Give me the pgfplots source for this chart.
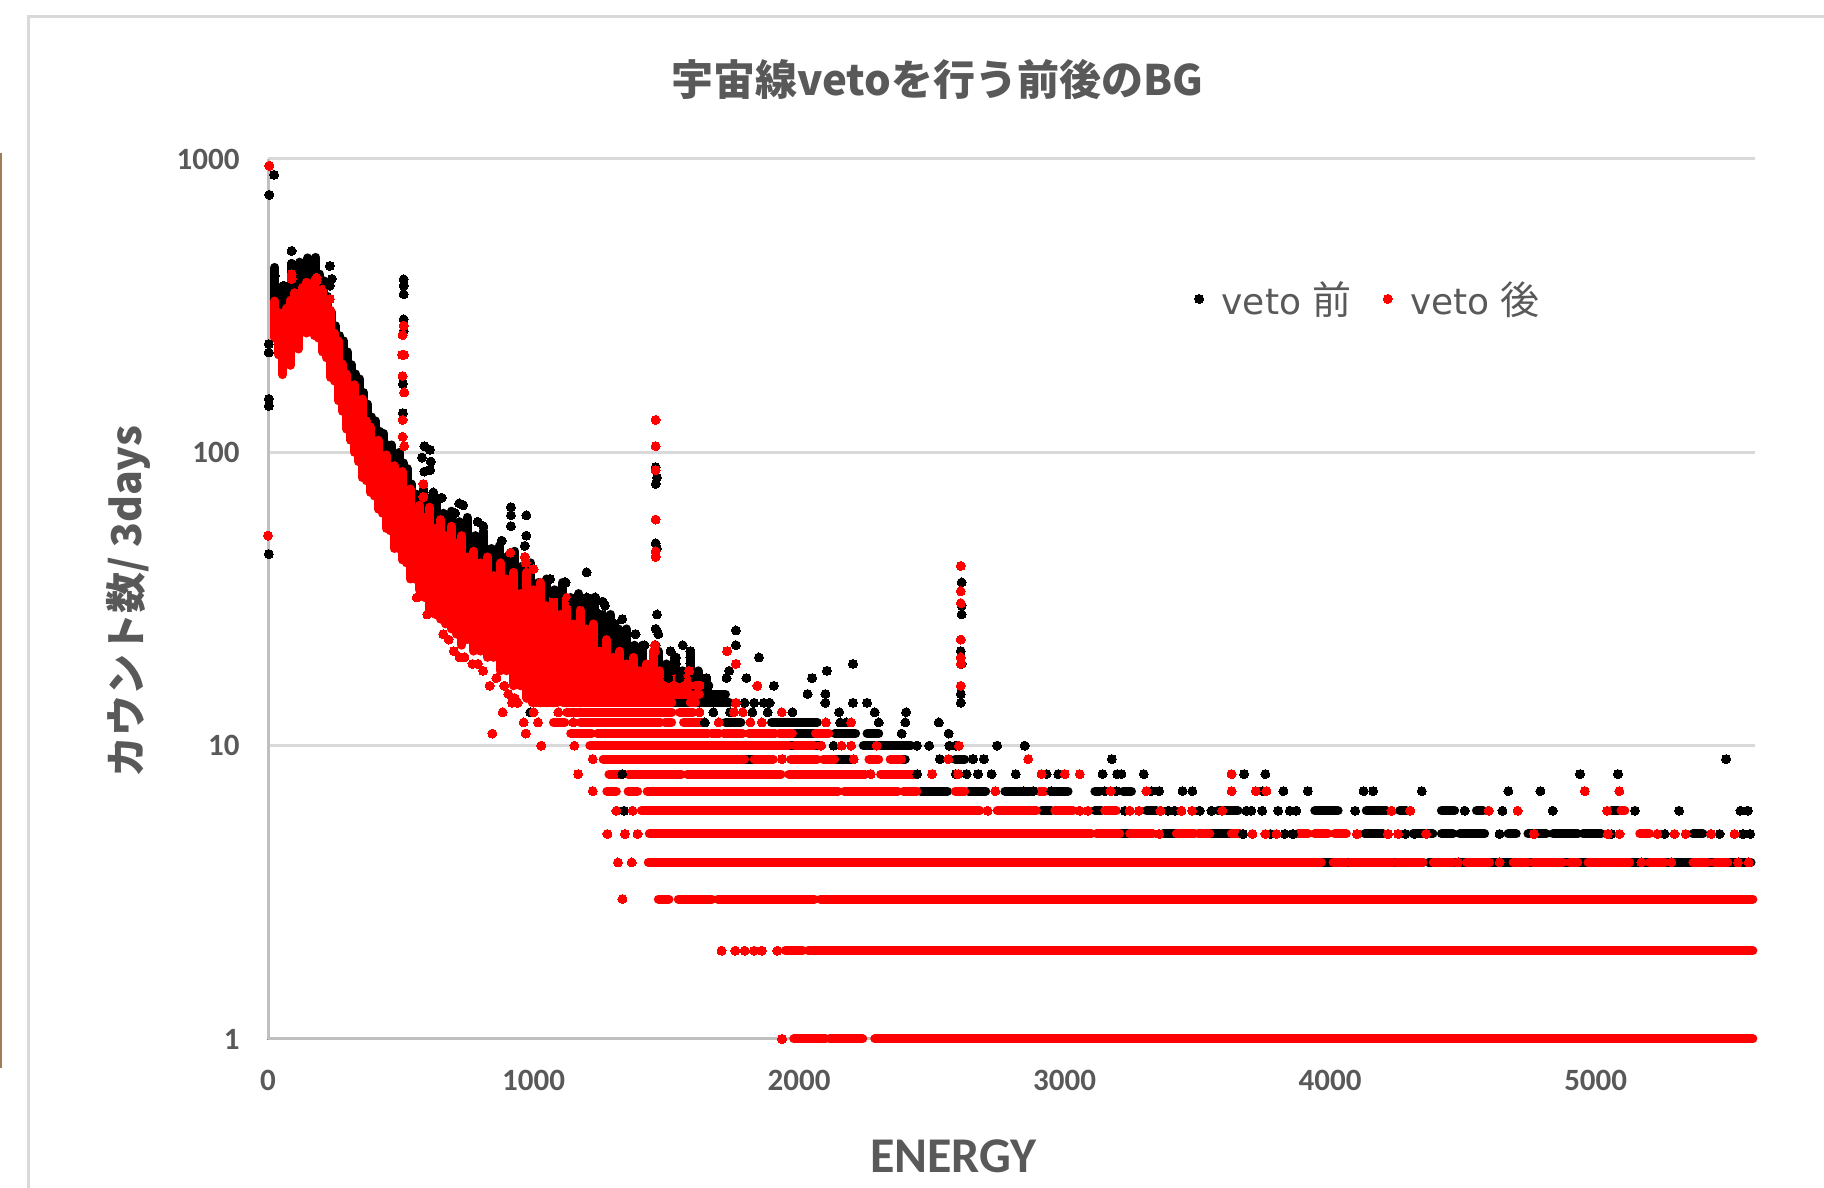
\documentclass[border=0pt]{standalone}
\usepackage{fontspec}
\usepackage{pgfplots}
\pgfplotsset{compat=1.18}
\setmainfont{Carlito}
\newfontfamily\cjk{Noto Sans CJK JP}
\newfontfamily\dejavu{DejaVu Sans}
\definecolor{txt}{HTML}{595959}
\definecolor{grid}{HTML}{D9D9D9}
\definecolor{axl}{HTML}{BFBFBF}
\definecolor{frame}{HTML}{D9D9D9}
\definecolor{strip}{HTML}{A07C58}
\pgfplotsset{
  mk/.style={only marks,mark=*,mark size=4.5pt,draw=#1,fill=#1,mark options={draw=#1,fill=#1,line width=0pt}},
  run/.style={no markers,draw=#1,line width=9pt,line cap=round,unbounded coords=jump,forget plot},
}
\begin{document}
\begin{tikzpicture}
\path[use as bounding box] (0,0) rectangle (1824pt,1188pt);
\draw[frame,line width=3pt] (28pt,0) -- (28pt,1171pt) -- (1824pt,1171pt);
\draw[strip,line width=2pt] (1pt,120pt) -- (1pt,1035pt);
\begin{axis}[
  at={(268pt,149pt)},anchor=south west,
  scale only axis,width=1487pt,height=880pt,
  xmin=0,xmax=5600,ymin=1,ymax=1000,ymode=log,
  clip=false,
  axis lines=left,axis line style={-,draw=axl,line width=3pt},
  ymajorgrids,grid style={draw=grid,line width=3pt},
  xtick={0,1000,2000,3000,4000,5000},xticklabels={0,1000,2000,3000,4000,5000},
  ytick={1,10,100,1000},yticklabels={1,10,100,1000},
  minor y tick num=0,major tick length=0pt,
  tick label style={font=\fontsize{31}{37}\selectfont\bfseries,text=txt},
  x tick label style={yshift=-28pt},
  y tick label style={xshift=-25pt},
  title={\fontsize{42}{49}\selectfont\cjk\bfseries 宇宙線veto\hspace{0pt}を行う前後のBG},
  title style={at={(0.45,1.0830)},anchor=center,text=txt},
  xlabel={\fontsize{50}{58}\selectfont\bfseries ENERGY},
  xlabel style={at={(0.461,-0.133)},anchor=center,text=txt},
  ylabel={\fontsize{41}{48}\selectfont\cjk\bfseries カウント数/ 3days},
  ylabel style={at={(-0.094,0.497)},anchor=center,text=txt,rotate=0},
  legend columns=2,
  legend style={at={(0.621,0.841)},anchor=west,draw=none,fill=none,
    font=\fontsize{36}{42}\selectfont\dejavu,text=txt,
    /tikz/every even column/.append style={column sep=30pt}},
]
% ---------- black: saturated columns of the blob
\addplot[run=black] coordinates {
(26,300)(26,427)(26,nan)(40,300)(40,365)(40,nan)(55,300)(55,355)(55,nan)(70,300)(70,330)(70,nan)
(90,300)(90,440)(90,nan)(105,300)(105,430)(105,nan)(120,300)(120,445)(120,nan)(135,300)(135,425)(135,nan)
(150,300)(150,460)(150,nan)(165,300)(165,430)(165,nan)(180,300)(180,462)(180,nan)(195,300)(195,405)(195,nan)
(210,280)(210,385)(210,nan)(225,260)(225,340)(225,nan)(240,230)(240,300)(240,nan)(255,215)(255,270)(255,nan)
(270,180)(270,250)(270,nan)(285,165)(285,240)(285,nan)(300,150)(300,220)(300,nan)(315,140)(315,199)(315,nan)
(330,125)(330,185)(330,nan)(345,115)(345,178)(345,nan)(360,105)(360,160)(360,nan)(375,95)(375,146)(375,nan)
(390,90)(390,132)(390,nan)(405,85)(405,128)(405,nan)(420,80)(420,118)(420,nan)(435,75)(435,116)(435,nan)
(450,72)(450,106)(450,nan)(465,68)(465,106)(465,nan)(480,66)(480,98)(480,nan)(495,64)(495,100)(495,nan)
(510,62)(510,92)(510,nan)(525,58)(525,88)(525,nan)(540,55)(540,78)(540,nan)(560,50)(560,72)(560,nan)
(585,40)(585,75)(585,nan)(610,38)(610,70)(610,nan)(635,36)(635,70)(635,nan)(660,34)(660,62)(660,nan)
(690,32)(690,63)(690,nan)(720,30)(720,58)(720,nan)(750,28)(750,60)(750,nan)(780,26)(780,52)(780,nan)
(810,25)(810,54)(810,nan)(840,24)(840,47)(840,nan)(870,23)(870,48)(870,nan)(900,22)(900,44)(900,nan)
(930,22)(930,46)(930,nan)(960,20)(960,41)(960,nan)(990,18)(990,42)(990,nan)(1020,18)(1020,36)(1020,nan)
(1050,17)(1050,37)(1050,nan)(1080,17)(1080,34)(1080,nan)(1110,16)(1110,36)(1110,nan)(1140,16)(1140,32)(1140,nan)
(1170,16)(1170,33)(1170,nan)(1200,16)(1200,30)(1200,nan)(1230,16)(1230,32)(1230,nan)(1260,16)(1260,28)(1260,nan)
(1290,16)(1290,28)(1290,nan)(1320,16)(1320,25)(1320,nan)(1350,16)(1350,25)(1350,nan)(1380,16)(1380,22)(1380,nan)
(1410,16)(1410,22)(1410,nan)(1440,16)(1440,19)(1440,nan)(1470,16)(1470,21)(1470,nan)(1500,16)(1500,19)(1500,nan)
(1530,16)(1530,20)(1530,nan)(1560,16)(1560,18)(1560,nan)(1590,16)(1590,21)(1590,nan)(1620,16)(1620,18)(1620,nan)
(1650,16)(1650,17)(1650,nan)
};
% ---------- black: count rows, dense stretches
\addplot[run=black] coordinates {
(1600,16)(1660,16)(1660,nan)
(1594,15)(1723,15)(1723,nan)
(1529,14)(1738,14)(1738,nan)
(1723,12)(1781,12)(1781,nan)(1896,12)(2069,12)(2069,nan)
(1983,11)(2055,11)(2055,nan)(2134,11)(2213,11)(2213,nan)(2256,11)(2300,11)(2300,nan)
(1961,10)(1983,10)(1983,nan)(2055,10)(2083,10)(2083,nan)(2242,10)(2422,10)(2422,nan)
(1795,9)(1831,9)(1831,nan)(2134,9)(2206,9)(2206,nan)(2386,9)(2400,9)(2400,nan)(2588,9)(2624,9)(2624,nan)
(2458,7)(2559,7)(2559,nan)(2638,7)(2703,7)(2703,nan)(2775,7)(2869,7)(2869,nan)(2948,7)(3013,7)(3013,nan)
(3114,7)(3132,7)(3132,nan)(3220,7)(3252,7)(3252,nan)
(2913,6)(2950,6)(2950,nan)(3114,6)(3139,6)(3139,nan)(3308,6)(3346,6)(3346,nan)(3578,6)(3653,6)(3653,nan)
(3942,6)(4030,6)(4030,nan)(4136,6)(4212,6)(4212,nan)(4262,6)(4287,6)(4287,nan)(4419,6)(4469,6)(4469,nan)
(4551,6)(4576,6)(4576,nan)(5060,6)(5085,6)(5085,nan)
(3208,5)(3239,5)(3239,nan)(3371,5)(3415,5)(3415,nan)(3547,5)(3622,5)(3622,nan)(4130,5)(4199,5)(4199,nan)
(4312,5)(4387,5)(4387,nan)(4419,5)(4463,5)(4463,nan)(4488,5)(4582,5)(4582,nan)(4670,5)(4701,5)(4701,nan)
(4745,5)(4814,5)(4814,nan)(4839,5)(4933,5)(4933,nan)(4952,5)(5021,5)(5021,nan)(5366,5)(5404,5)(5404,nan)
(3960,4)(4350,4)(4350,nan)(4370,4)(5585,4)(5585,nan)
};
% ---------- black: single points
\addplot[mk=black] coordinates {
(5,755)(23,883)(3,234)(3,219)(3,152)(3,144)(3,45)
(511,389)(511,370)(511,346)(511,284)(511,259)(508,171)(508,136)
(589,105)(610,102)(580,96)(613,93)(589,86)(610,87)
(89,486)(89,440)(233,432)(240,390)(233,370)(26,400)(60,370)
(623,73)(654,70)(705,62)(720,67)(735,66)(790,58)(811,56)(880,50)
(915,65)(915,61)(915,56)(973,61)(973,52)(967,48)
(1200,39)(1062,37)(1118,36)(1075,33)(1150,31)(1180,31)(1260,31)(1290,27)
(1121,36)(1096,33)(1161,32)(1201,32)(1233,32)(1219,30)(1269,30)(1248,28)
(1284,25)(1305,26)(1334,27)(1384,24)(1418,22)
(1460,89)(1465,82)(1460,78)(1460,49)(1465,47)(1465,28)(1460,25)(1470,24)(1460,22)
(2612,36)(2612,30)(2612,28)(2609,21)(2612,19)(2609,15)(2609,14)
(1516,21)(1536,20)(1536,19)(1591,21)(1591,20)(1591,19)(1562,22)
(1514,18)(1508,17)(1550,17)(1651,17)(1658,16)
(1762,24.7)(1762,22)(1849,20)(1737,18)(1727,17)(1802,17)(1905,16)
(2032,15)(2099,15)(2099,14)(2049,17)(2105,18)(2203,19)(2203,14)(2256,14)
(1795,14)(1831,14)(1867,14)(1889,14)
(988,13)(1677,13)(1740,13)(1824,13)(1882,13)(1975,13)(2151,13)(2285,13)(2403,13)
(2155,12)(2177,12)(2300,12)(2400,12)(2526,12)(1645,12)
(2386,11)(2563,11)
(2130,10)(2444,10)(2490,10)(2566,10)(2590,10)(2746,10)(2850,10)
(2530,9)(2655,9)(2696,9)(3178,9)(5491,9)
(1334,8)(2445,8)(2590,8)(2631,8)(2674,8)(2725,8)(2816,8)(2932,8)(2976,8)
(3143,8)(3198,8)(3214,8)(3298,8)(3676,8)(3756,8)(4941,8)(5084,8)
(2846,7)(2881,7)(2950,7)(3151,7)(3195,7)(3327,7)(3356,7)(3444,7)(3481,7)(3747,7)(3824,7)(3916,7)
(4126,7)(4162,7)(4345,7)(4671,7)(4792,7)
(1341,6)(3227,6)(3390,6)(3415,6)(3509,6)(3553,6)(3685,6)(3703,6)(3744,6)(3804,6)(3848,6)(3873,6)
(4094,6)(4507,6)(4649,6)(4838,6)(5148,6)(5314,6)(5545,6)(5573,6)
(3672,5)(3775,5)(3829,5)(3860,5)(4283,5)(4318,5)(4638,5)(5060,5)(5260,5)(5467,5)(5555,5)(5582,5)
};
\addlegendentry{\hspace{16pt}veto\hspace{11pt}{\cjk\fontsize{39}{42}\selectfont 前}}
% ---------- red: saturated columns of the blob
\addplot[run=red] coordinates {
(26,245)(26,328)(26,nan)(40,215)(40,300)(40,nan)(55,184)(55,285)(55,nan)(70,205)(70,310)(70,nan)
(85,198)(85,330)(85,nan)(100,235)(100,350)(100,nan)(115,225)(115,345)(115,nan)(130,270)(130,365)(130,nan)
(145,255)(145,380)(145,nan)(160,275)(160,370)(160,nan)(175,250)(175,385)(175,nan)(190,245)(190,350)(190,nan)
(205,220)(205,360)(205,nan)(220,210)(220,320)(220,nan)(235,180)(235,305)(235,nan)(250,175)(250,255)(250,nan)
(265,150)(265,240)(265,nan)(280,138)(280,200)(280,nan)(295,120)(295,185)(295,nan)(310,110)(310,160)(310,nan)
(325,100)(325,170)(325,nan)(340,93)(340,150)(340,nan)(355,82)(355,152)(355,nan)(370,80)(370,128)(370,nan)
(385,73)(385,122)(385,nan)(400,71)(400,106)(400,nan)(415,64)(415,110)(415,nan)(430,62)(430,94)(430,nan)
(445,55)(445,98)(445,nan)(460,54)(460,86)(460,nan)(475,47)(475,90)(475,nan)(490,47)(490,80)(490,nan)
(505,43)(505,86)(505,nan)(520,42)(520,74)(520,nan)(535,37)(535,75)(535,nan)(550,37)(550,62)(550,nan)
(570,34)(570,66)(570,nan)(590,32)(590,60)(590,nan)(610,29)(610,65)(610,nan)(630,28)(630,55)(630,nan)
(650,27)(650,59)(650,nan)(670,26)(670,52)(670,nan)(690,25)(690,56)(690,nan)(710,24)(710,49)(710,nan)
(730,22)(730,52)(730,nan)(750,23)(750,44)(750,nan)(775,21)(775,46)(775,nan)(800,21)(800,42)(800,nan)
(825,20)(825,44)(825,nan)(850,20)(850,38)(850,nan)(875,18)(875,42)(875,nan)(900,18)(900,37)(900,nan)
(925,16)(925,39)(925,nan)(950,16)(950,33)(950,nan)(975,14.5)(975,39)(975,nan)(1000,15)(1000,34)(1000,nan)
(1025,14)(1025,36)(1025,nan)(1050,14)(1050,30)(1050,nan)(1075,14)(1075,33)(1075,nan)(1100,14.5)(1100,28)(1100,nan)
(1125,14)(1125,32)(1125,nan)(1150,14)(1150,26)(1150,nan)(1175,14)(1175,29)(1175,nan)(1200,15)(1200,25)(1200,nan)
(1225,15)(1225,26)(1225,nan)(1250,17)(1250,21)(1250,nan)(1275,15)(1275,23)(1275,nan)(1300,17)(1300,20)(1300,nan)
(1325,15)(1325,21)(1325,nan)(1350,17)(1350,19)(1350,nan)(1375,15)(1375,20)(1375,nan)(1400,16)(1400,18)(1400,nan)
(1425,15)(1425,19)(1425,nan)(1450,17)(1450,21)(1450,nan)(1475,15)(1475,18)(1475,nan)(1500,15)(1500,16)(1500,nan)
(1525,15)(1525,17)(1525,nan)(1575,15)(1575,17)(1575,nan)
};
% ---------- red: count rows, dense stretches
\addplot[run=red] coordinates {
(990,16)(1020,16)(1020,nan)(1060,16)(1590,16)(1590,nan)(1610,16)(1630,16)(1630,nan)
(985,15)(1015,15)(1015,nan)(1046,15)(1594,15)(1594,nan)(1610,15)(1625,15)(1625,nan)
(995,14)(1089,14)(1089,nan)(1111,14)(1521,14)(1521,nan)(1590,14)(1610,14)(1610,nan)
(1125,13)(1521,13)(1521,nan)(1550,13)(1601,13)(1601,nan)
(1075,12)(1118,12)(1118,nan)(1176,12)(1478,12)(1478,nan)(1495,12)(1520,12)(1520,nan)(1565,12)(1637,12)(1637,nan)
(1140,11)(1219,11)(1219,nan)(1240,11)(1658,11)(1658,nan)(1670,11)(1700,11)(1700,nan)(1716,11)(1788,11)(1788,nan)
(1810,11)(1910,11)(1910,nan)(1925,11)(1975,11)(1975,nan)(2062,11)(2112,11)(2112,nan)
(1212,10)(1961,10)(1961,nan)(1983,10)(2055,10)(2055,nan)
(1262,9)(1795,9)(1795,nan)(1831,9)(1903,9)(1903,nan)(1968,9)(2069,9)(2069,nan)(2091,9)(2134,9)(2134,nan)
(2263,9)(2300,9)(2300,nan)(2343,9)(2386,9)(2386,nan)
(1284,8)(1325,8)(1325,nan)(1356,8)(1557,8)(1557,nan)(1579,8)(1932,8)(1932,nan)(1961,8)(2249,8)(2249,nan)(2307,8)(2437,8)(2437,nan)
(1276,7)(1312,7)(1312,nan)(1356,7)(1392,7)(1392,nan)(1428,7)(2148,7)(2148,nan)(2170,7)(2372,7)(2372,nan)
(2393,7)(2444,7)(2444,nan)(2588,7)(2624,7)(2624,nan)(2905,7)(2925,7)(2925,nan)
(1406,6)(2681,6)(2681,nan)(2746,6)(2894,6)(2894,nan)(2963,6)(3032,6)(3032,nan)(3151,6)(3195,6)(3195,nan)(5095,6)(5110,6)(5110,nan)
(1436,5)(3101,5)(3101,nan)(3120,5)(3208,5)(3208,nan)(3245,5)(3333,5)(3333,nan)(3421,5)(3490,5)(3490,nan)
(3503,5)(3547,5)(3547,nan)(3628,5)(3660,5)(3660,nan)(3879,5)(3917,5)(3917,nan)(3942,5)(3992,5)(3992,nan)
(4017,5)(4061,5)(4061,nan)(5166,5)(5203,5)(5203,nan)
(1432,4)(3967,4)(3967,nan)(4011,4)(4061,4)(4061,nan)(4074,4)(4237,4)(4237,nan)(4249,4)(4350,4)(4350,nan)
(4388,4)(4463,4)(4463,nan)(4513,4)(4601,4)(4601,nan)(4689,4)(4745,4)(4745,nan)(4764,4)(4877,4)(4877,nan)
(4902,4)(4933,4)(4933,nan)(4971,4)(5128,4)(5128,nan)(5203,4)(5260,4)(5260,nan)(5366,4)(5423,4)(5423,nan)
(5448,4)(5498,4)(5498,nan)
(1470,3)(1510,3)(1510,nan)(1545,3)(1672,3)(1672,nan)(1694,3)(2058,3)(2058,nan)(2080,3)(5592,3)(5592,nan)
(1948,2)(2014,2)(2014,nan)(2034,2)(5592,2)(5592,nan)
(1980,1)(2100,1)(2100,nan)(2115,1)(2240,1)(2240,nan)(2285,1)(5592,1)(5592,nan)
};
% ---------- red: single points
\addplot[mk=red] coordinates {
(5,948)(0,52)
(511,270)(507,251)(505,215)(513,215)(507,182)(513,160)(507,129)(507,113)(513,105)
(1460,129)(1460,105)(1460,87)(1460,59)(1460,46)(1460,44)(1457,22)(1457,21)
(2609,41)(2609,33.6)(2609,30.6)(2609,23)(2609,20)(2609,19)(2609,16)
(585,78)(585,70.5)(89,405)(89,390)(183,394)(183,385)(233,333)
(913,45.5)(967,44)(971,42)(1000,40)(1729,21)(1762,19)(1843,16)(1586,18)(1622,16)
(845,11)(884,13)(919,14)(963,12)(1029,10)(971,11)(1000,13)(1017,12)
(722,20)(700,21)(660,24)(616,29)(770,19)(810,18)(835,16)(905,15)(940,14)
(560,32)(600,28)(680,23)(740,20)(790,19)(860,17)(890,16)(930,14.5)
(1093,13)(1755,13)(1788,13)(1935,13)(1625,13)(1762,14)
(1150,12)(1697,12)(1817,12)(1860,12)(2101,12)(2196,12)
(971,11)(1154,10)(2083,10)(2160,10)(2196,10)(2292,10)(2602,10)
(1223,9)(1936,9)(2206,9)(2562,9)(2863,9)
(1168,8)(2270,8)(2501,8)(2599,8)(2913,8)(3001,8)(3057,8)(3629,8)
(1223,7)(2739,7)(3173,7)(3308,7)(3629,7)(3720,7)(3760,7)(4959,7)(5089,7)
(1312,6)(1373,6)(2710,6)(3057,6)(3088,6)(3245,6)(3280,6)(3361,6)(3440,6)(3480,6)(3594,6)
(4231,6)(4302,6)(4597,6)(4706,6)(5043,6)
(1278,5)(1344,5)(1392,5)(3356,5)(3707,5)(3756,5)(3798,5)(4101,5)(4218,5)(4256,5)
(4362,5)(4768,5)(5046,5)(5090,5)(5232,5)(5297,5)(5339,5)(5435,5)(5523,5)
(1318,4)(1370,4)(4482,4)(4638,4)(5172,4)(5285,4)(5536,4)(5576,4)
(1335,3)
(1708,2)(1760,2)(1795,2)(1830,2)(1860,2)(1918,2)
(1936,1)
};
\addlegendentry{\hspace{16pt}veto\hspace{11pt}{\cjk\fontsize{39}{42}\selectfont 後}}
\end{axis}
\end{tikzpicture}
\end{document}
